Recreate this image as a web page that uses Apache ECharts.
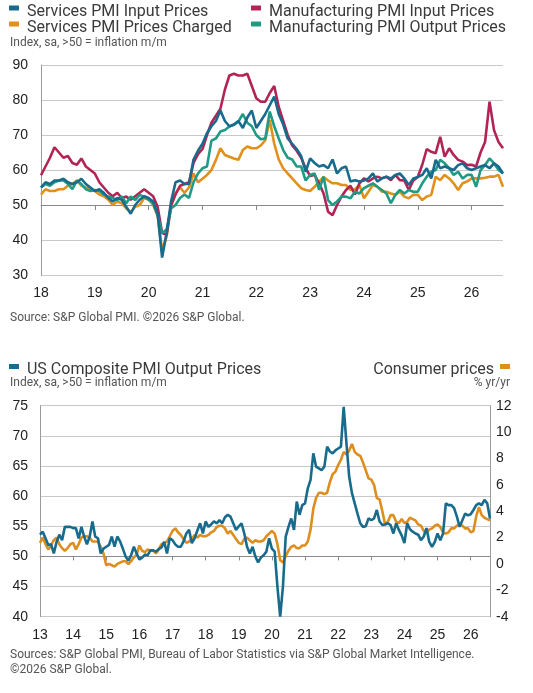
<!DOCTYPE html>
<html>
<head>
<meta charset="utf-8">
<script src="https://cdn.jsdelivr.net/npm/echarts@6.0.0/dist/echarts.min.js"></script>
<style>
html,body{margin:0;padding:0;background:#fff}
#chart{width:533px;height:693px}
</style>
</head>
<body>
<div id="chart"></div>
<script>
// monthly categories
function monthList(y0, n) {
    let out = []
    for (let k = 0; k < n; k++) {
        let y = y0 + Math.floor(k / 12)
        let m = k % 12 + 1
        out.push(y + '-' + (m < 10 ? '0' + m : m))
    }
    return out
}
const months18 = monthList(2018, 104)   // Jan 2018 - Aug 2026
const months13 = monthList(2013, 164)   // Jan 2013 - Aug 2026

// top chart, index values
const servicesInput = [
    55, 56.5, 56, 57, 57, 57.5, 56.5, 56, 56.5, 57.5, 56, 55,
    54, 54.5, 53.5, 52, 51, 52, 51.5, 49.5, 47.5, 50, 51.5, 52.5,
    52, 51, 47.5, 35, 42, 51, 56.5, 57, 56, 56, 63, 65.5,
    67.5, 70.5, 72.5, 74, 77, 74, 72.5, 73, 74, 72, 75, 77,
    72, 74, 76, 78.5, 81, 76, 73, 69, 67.5, 66, 64, 59.5,
    63.3, 62, 61, 61.4, 60.5, 63, 59, 60.5, 61, 56.7, 57.1, 56.7,
    57, 57.6, 59, 56.7, 57.6, 58.1, 57.6, 58.6, 59, 57.6, 55.7, 57.6,
    58, 58.6, 60.5, 57.6, 62.9, 60.5, 61, 60.5, 60, 61.4, 61.9, 60.5,
    60, 60.5, 61, 61.4, 60.5, 61.9, 61, 59
]
const manufInput = [
    58.5, 61, 63.5, 66.5, 65, 63.5, 64, 62, 61.5, 63.3, 61, 60,
    59, 56.5, 55, 53.5, 52.5, 53.5, 52, 52.4, 51.5, 52.5, 53.5, 54.5,
    53.5, 52.5, 49.5, 42, 41.5, 50, 53, 55.5, 56, 56.5, 62, 64.5,
    66, 70, 73.5, 75.5, 77.5, 83, 87, 87.5, 87, 87, 87.5, 84,
    80.5, 79.5, 79.5, 82, 84, 78, 74, 70, 67, 65.5, 63.5, 60.5,
    58.3, 58.6, 56.2, 53.3, 48.1, 47.1, 50, 52.4, 54.3, 55.5, 53, 56.2,
    57.6, 56.7, 57.6, 58.1, 57.6, 58.1, 57.1, 58.6, 57.1, 57, 54.3, 57,
    58, 61.5, 66, 65.2, 64.8, 69.5, 63.8, 66.2, 64.3, 62.9, 62.4, 61.4,
    61.5, 61, 65, 68, 79.5, 71.4, 68, 66.2
]
const servicesCharged = [
    53, 54.5, 54, 54, 54.5, 54.5, 55.5, 56, 57, 55.5, 55, 54.5,
    54, 53, 52.5, 51.5, 50, 51, 50.5, 49, 48, 49.5, 50, 52,
    51.5, 50, 47, 37, 41, 49.5, 53.5, 55, 53.5, 55, 59, 56.5,
    57.5, 58.6, 60, 62.9, 66.2, 64.3, 63.8, 63.3, 62.9, 65.7, 66.7, 66.2,
    66.2, 67, 68.5, 74.3, 67.5, 63, 60.5, 59, 57.6, 56.2, 54.8, 54.3,
    54, 55.2, 56.7, 58, 57, 56.2, 56.2, 55.7, 55.7, 54.3, 54.5, 55.7,
    51.9, 53.8, 55.7, 55.2, 53.8, 53.8, 53.3, 52.9, 53.8, 52.4, 51.9, 52.9,
    52.9, 51.4, 52.4, 52.9, 58.1, 57.1, 58.6, 57.6, 56.2, 54.3, 56.2, 56.7,
    57.6, 57.6, 57.6, 57.8, 58.1, 58.1, 58.6, 55.2
]
const manufOutput = [
    55, 56, 55.5, 56.5, 57, 57, 56, 54.5, 57, 56, 54.5, 54,
    54.3, 54, 53, 52.4, 52, 51.4, 52.4, 50.5, 52.4, 51.4, 52.9, 52.4,
    51.5, 50.5, 47, 42, 43, 49, 50, 52, 53, 52, 56.5, 59,
    60.5, 61, 68.4, 69, 71, 71.4, 72.4, 72.9, 73.8, 76, 73.5, 72.5,
    70, 68.8, 69, 76.7, 72.5, 69, 65.7, 63.5, 63, 61, 61, 57,
    58.6, 59, 54.3, 58.1, 51.4, 50, 51, 52.4, 52.4, 51.9, 53.8, 53.3,
    54.8, 55.5, 56.2, 55.2, 54.3, 53.3, 50.5, 52.9, 54.3, 53.3, 54.3, 53.8,
    53.8, 56.2, 58.1, 59.5, 60, 62.9, 61.9, 60.5, 58.6, 59.5, 57.6, 58.6,
    58.6, 55.2, 60, 61.4, 63.3, 61.9, 60, 59
]

// bottom chart
const compositeOutput = [
    53.6, 54.1, 53, 51.9, 52, 50.5, 52.4, 53.6, 52.7, 54.9, 54.9, 54.9,
    54.7, 54.7, 53, 54.9, 53.3, 52, 53.3, 55.8, 53.3, 53, 50.5, 51.3,
    51.6, 51.9, 53.3, 51.6, 53.3, 52.5, 51.3, 50, 49.3, 50.2, 51.6, 50.5,
    49.5, 49.8, 50.3, 50.2, 51, 51, 50.8, 51.2, 51.5, 52.4, 50.5, 53,
    52.7, 52, 51.6, 51.6, 52.5, 53.8, 54.4, 52.2, 53, 54.3, 55.5, 53.8,
    55.8, 54.9, 55.3, 55.8, 55.5, 56, 55.5, 56.5, 56.9, 56.6, 55.5, 54.4,
    55, 55.5, 53.8, 51.6, 50.5, 51.6, 50, 49, 49.8, 50.2, 50.8, 53,
    51.3, 50.8, 45, 40, 45, 53.3, 54.9, 56.3, 54.4, 59.1, 56.9, 58.5,
    58.8, 61.3, 62.7, 67.1, 64.9, 64.6, 64.3, 64.9, 68.2, 67.4, 67.1, 67.6,
    67.9, 68.2, 74.8, 68.8, 63.2, 60.5, 58.8, 57.1, 55.5, 54.9, 55, 56.3,
    56, 56.3, 57.7, 55.8, 55.2, 55.3, 55.5, 55.2, 53.8, 55.5, 54.4, 53.5,
    52.2, 55.5, 54.5, 54.1, 53.8, 53.6, 52.7, 53.3, 54.7, 52.4, 51.6, 52.4,
    53.8, 52.7, 53.8, 58.8, 58.5, 58.5, 58, 56.6, 54.9, 56, 57.1, 56.8,
    57, 57.7, 58.5, 58.8, 58.5, 59.4, 58.8, 56.3
]
const consumerPrices = [
    1.6, 2.0, 1.5, 1.1, 1.4, 1.8, 2.0, 1.5, 1.2, 1.0, 1.2, 1.5,
    1.6, 1.1, 1.5, 2.0, 2.1, 2.1, 2.0, 1.7, 1.7, 1.7, 1.3, 0.8,
    -0.1, 0.0, -0.1, -0.2, 0.0, 0.1, 0.2, 0.2, 0.0, 0.2, 0.5, 0.7,
    1.4, 1.0, 0.9, 1.1, 1.0, 1.0, 0.8, 1.1, 1.5, 1.6, 1.7, 2.1,
    2.5, 2.7, 2.4, 2.2, 1.9, 1.6, 1.7, 1.9, 2.2, 2.0, 2.2, 2.1,
    2.1, 2.2, 2.4, 2.5, 2.8, 2.9, 2.9, 2.7, 2.3, 2.5, 2.2, 1.9,
    1.6, 1.5, 1.9, 2.0, 1.8, 1.6, 1.8, 1.7, 1.7, 1.8, 2.1, 2.3,
    2.5, 2.3, 1.5, 0.3, 0.1, 0.6, 1.0, 1.3, 1.4, 1.2, 1.2, 1.4,
    1.4, 1.7, 2.6, 4.2, 5.0, 5.4, 5.4, 5.3, 5.4, 6.2, 6.8, 7.0,
    7.5, 7.9, 8.5, 8.3, 8.6, 9.1, 8.5, 8.3, 8.2, 7.7, 7.1, 6.5,
    6.4, 6.0, 5.0, 4.9, 4.0, 3.0, 3.2, 3.7, 3.7, 3.2, 3.1, 3.4,
    3.1, 3.2, 3.5, 3.4, 3.3, 3.0, 2.9, 2.5, 2.4, 2.6, 2.7, 2.9,
    3.0, 2.8, 2.4, 2.3, 2.4, 2.7, 2.7, 2.9, 3.0, 2.9, 2.7, 2.7,
    2.4, 2.5, 3.6, 4.3, 3.7, 3.5, 3.4, 3.3
]

const cSvcIn = '#186b8c'
const cMfgIn = '#b22356'
const cSvcCh = '#e0901b'
const cMfgOut = '#1f9b85'
const cCpi = '#dd8e1e'

const numFont = '"Liberation Sans", Arial, sans-serif'
const txtFont = 'Roboto, "Noto Sans", sans-serif'
const gridCol = '#c8c8c8'
const axisCol = '#9a9a9a'

let isJan = function (idx) { return idx % 12 === 0 }
let yearLabel = function (v) { return v.slice(2, 4) }

// legend key: small bar sitting a little above the text middle
const keyIcon = 'path://M0,0H10V5H0Z M0,12H0.01V12.01H0Z'

// grids
const g1 = {left: 41, top: 65, width: 462, height: 210}
const g2 = {left: 40, top: 405.7, width: 450, height: 211}

var myChart = echarts.init(document.getElementById('chart'), null, {renderer: 'canvas'})

function lineSeries(name, data, color, xi, yi) {
    return {
        name: name, type: 'line', data: data,
        xAxisIndex: xi, yAxisIndex: yi,
        showSymbol: false, symbol: 'none',
        lineStyle: {color: color, width: 2.6},
        itemStyle: {color: color},
        emphasis: {disabled: true},
        animation: false
    }
}

var legendText = {fontSize: 16, color: '#3a3a3a', fontFamily: txtFont, padding: [0, 0, 0, 3], lineHeight: 16}
var legendBase = {padding: 0, itemWidth: 10, itemHeight: 12, icon: keyIcon, selectedMode: false, textStyle: legendText}

function smallText(txt, pos) {
    return Object.assign({type: 'text', style: {text: txt, fontSize: 12, fill: '#555', fontFamily: txtFont}}, pos)
}

var option = {
    backgroundColor: '#fff',
    animation: false,
    grid: [
        Object.assign({outerBoundsMode: 'none', containLabel: false}, g1),
        Object.assign({outerBoundsMode: 'none', containLabel: false}, g2)
    ],
    legend: [
        Object.assign({}, legendBase, {left: 9, top: 3.5, orient: 'vertical', itemGap: 0,
            data: ['Services PMI Input Prices', 'Services PMI Prices Charged']}),
        Object.assign({}, legendBase, {left: 251, top: 3.5, orient: 'vertical', itemGap: 0,
            data: ['Manufacturing PMI Input Prices', 'Manufacturing PMI Output Prices']}),
        Object.assign({}, legendBase, {left: 9, top: 362, orient: 'horizontal',
            data: ['US Composite PMI Output Prices']}),
        Object.assign({}, legendBase, {right: 23, top: 362, orient: 'horizontal', align: 'right',
            data: ['Consumer prices'], textStyle: Object.assign({}, legendText, {padding: [0, 1, 0, 0]})})
    ],
    graphic: [
        smallText('Index, sa, >50 = inflation m/m', {left: 10, top: 37}),
        smallText('Source: S&P Global PMI. ©2026 S&P Global.', {left: 10, top: 311.5}),
        smallText('Index, sa, >50 = inflation m/m', {left: 10, top: 377}),
        smallText('% yr/yr', {right: 23, top: 377}),
        smallText('Sources: S&P Global PMI, Bureau of Labor Statistics via S&P Global Market Intelligence.', {left: 10, top: 649}),
        smallText('©2026 S&P Global.', {left: 10, top: 663.5})
    ],
    xAxis: [
        // top chart labels
        {type: 'category', gridIndex: 0, data: months18, boundaryGap: false, position: 'bottom',
            axisLine: {show: false, onZero: false}, axisTick: {show: false},
            axisLabel: {interval: isJan, formatter: yearLabel, fontSize: 14, color: '#222', fontFamily: numFont, margin: 11},
            splitLine: {show: false}},
        // top chart line at 50
        {type: 'category', gridIndex: 0, data: months18, boundaryGap: false, position: 'bottom',
            offset: -g1.height * (50 - 30) / 60,
            axisLine: {show: true, onZero: false, lineStyle: {color: '#8a8a8a', width: 1}},
            axisTick: {show: true, interval: isJan, length: 5, lineStyle: {color: '#8a8a8a'}},
            axisLabel: {show: false}, splitLine: {show: false}},
        // bottom chart labels
        {type: 'category', gridIndex: 1, data: months13, boundaryGap: false, position: 'bottom',
            axisLine: {show: false, onZero: false}, axisTick: {show: false},
            axisLabel: {interval: isJan, formatter: yearLabel, fontSize: 14, color: '#222', fontFamily: numFont, margin: 11},
            splitLine: {show: false}},
        // bottom chart line at 50
        {type: 'category', gridIndex: 1, data: months13, boundaryGap: false, position: 'bottom',
            offset: -g2.height * (50 - 40) / 35,
            axisLine: {show: true, onZero: false, lineStyle: {color: '#8a8a8a', width: 1}},
            axisTick: {show: true, interval: isJan, length: 4, lineStyle: {color: '#8a8a8a'}},
            axisLabel: {show: false}, splitLine: {show: false}}
    ],
    yAxis: [
        {type: 'value', gridIndex: 0, min: 30, max: 90, interval: 10,
            axisLine: {show: true, lineStyle: {color: axisCol}}, axisTick: {show: false},
            axisLabel: {fontSize: 14, color: '#222', fontFamily: numFont, margin: 13},
            splitLine: {show: true, lineStyle: {color: gridCol, width: 1}}},
        {type: 'value', gridIndex: 1, min: 40, max: 75, interval: 5, position: 'left',
            axisLine: {show: true, lineStyle: {color: axisCol}}, axisTick: {show: false},
            axisLabel: {fontSize: 14, color: '#222', fontFamily: numFont, margin: 12},
            splitLine: {show: true, lineStyle: {color: gridCol, width: 1}}},
        {type: 'value', gridIndex: 1, min: -4, max: 12, interval: 2, position: 'right',
            axisLine: {show: true, lineStyle: {color: axisCol}}, axisTick: {show: false},
            axisLabel: {fontSize: 14, color: '#222', fontFamily: numFont, margin: 6},
            splitLine: {show: false}}
    ],
    series: [
        lineSeries('Services PMI Prices Charged', servicesCharged, cSvcCh, 0, 0),
        lineSeries('Manufacturing PMI Input Prices', manufInput, cMfgIn, 0, 0),
        lineSeries('Manufacturing PMI Output Prices', manufOutput, cMfgOut, 0, 0),
        lineSeries('Services PMI Input Prices', servicesInput, cSvcIn, 0, 0),
        lineSeries('Consumer prices', consumerPrices, cCpi, 2, 2),
        lineSeries('US Composite PMI Output Prices', compositeOutput, cSvcIn, 2, 1)
    ]
}

myChart.setOption(option)
</script>
</body>
</html>
